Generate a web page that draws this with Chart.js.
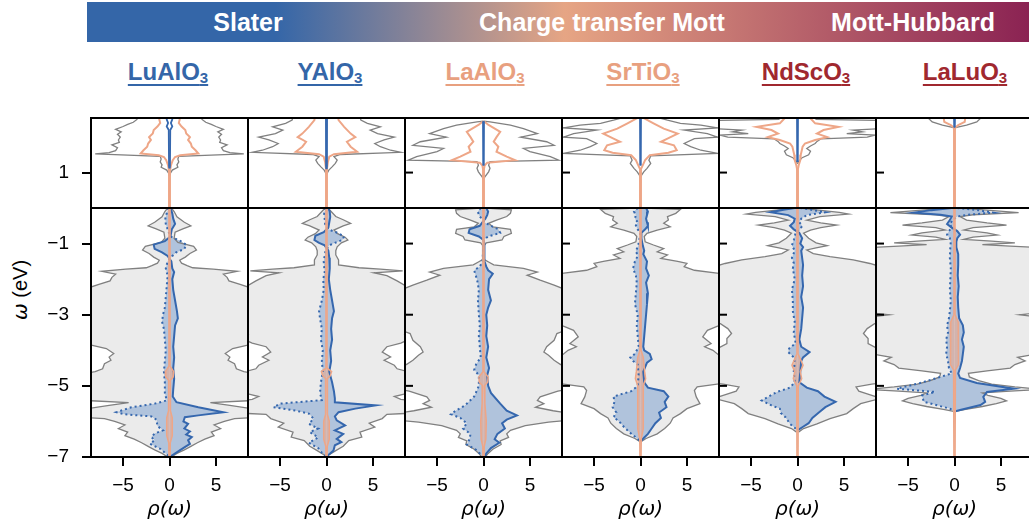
<!DOCTYPE html>
<html>
<head>
<meta charset="utf-8">
<title>Spectral functions</title>
<script src="https://cdn.jsdelivr.net/npm/chart.js@4.4.0/dist/chart.umd.min.js"></script>
<style>
    html, body { margin: 0; padding: 0; background: #fff; }
    body { width: 1029px; height: 527px; position: relative; overflow: hidden; font-family: "Liberation Sans", Arial, sans-serif; }
    .banner { position: absolute; left: 87px; top: 2px; width: 950px; height: 40px;
        background: linear-gradient(to right, #3466a8 0%, #3466a8 19.8%, #e6a584 50.3%, #8b2353 99%); }
    .banner span { position: absolute; top: 0; line-height: 40px; color: #fff; font-weight: bold; font-size: 25px;
        transform: translateX(-50%); white-space: nowrap; }
    .name { position: absolute; top: 58px; line-height: 28px; font-weight: bold; font-size: 24px; white-space: nowrap;
        transform: translateX(-50%); text-decoration: underline; text-decoration-thickness: 2px; text-underline-offset: 4px; }
    .name sub { font-size: 15px; vertical-align: -3px; line-height: 0; }
    .ytitle { position: absolute; left: 20px; top: 290px; font-size: 20px; white-space: nowrap;
        transform: translate(-50%, -50%) rotate(-90deg); }
    .ytitle i { font-family: "DejaVu Sans", sans-serif; }
    canvas { position: absolute; }
</style>
</head>
<body>
<div class="banner">
    <span style="left:161px">Slater</span>
    <span style="left:515px">Charge transfer Mott</span>
    <span style="left:826px">Mott-Hubbard</span>
</div>
<div class="ytitle"><i>ω</i> (eV)</div>

<script>
(function () {
    "use strict";

    var names = ["LuAlO", "YAlO", "LaAlO", "SrTiO", "NdScO", "LaLuO"];
    var nameColors = ["#3466a8", "#3466a8", "#e8a07f", "#e8a07f", "#a0282f", "#a0282f"];
    var nameCenters = [168, 330, 485, 643, 806, 965];

    var rhoTicks = [-5, 0, 5];
    var lowTicks = [-7, -5, -3, -1];
    var highTicks = [1];

    // [omega, rho] pairs. tot/or/bl are half widths (mirrored), up/dn are signed.
    var luTotLow = [[0,0.2],[-0.1,0.5],[-0.25,0.8],[-0.4,1.6],[-0.5,2.3],[-0.58,1.5],[-0.68,0.6],[-0.85,0.5],[-0.97,0.9],[-1.08,2.6],[-1.18,2.9],[-1.28,2.2],[-1.38,1.7],[-1.47,1.1],[-1.55,1.3],[-1.62,1.9],[-1.68,2.5],[-1.72,4.7],[-1.78,7.3],[-1.86,5.8],[-1.95,6.2],[-2.05,6.4],[-2.15,7.6],[-2.25,8.8],[-2.32,10],[-3.8,10],[-3.86,8.3],[-3.95,6.8],[-4.09,6.0],[-4.19,6.5],[-4.28,6.3],[-4.38,7.0],[-4.52,7.2],[-4.6,8.0],[-4.66,9.2],[-4.72,10],[-5.4,10],[-5.47,4.4],[-5.55,6.5],[-5.63,8.5],[-5.68,10],[-5.88,10],[-5.92,7.0],[-6.0,5.9],[-6.1,4.8],[-6.2,5.5],[-6.3,4.5],[-6.4,4.8],[-6.5,3.8],[-6.6,3.0],[-6.7,2.3],[-6.8,1.6],[-6.9,0.8],[-7,0.2]];
    var luUpLow = [[0,0.1],[-0.15,0.3],[-0.3,0.4],[-0.45,0.6],[-0.6,0.25],[-0.8,0.1],[-0.93,-0.5],[-1.03,-1.7],[-1.15,-1.6],[-1.25,-0.8],[-1.35,-0.2],[-1.5,0.2],[-1.7,0.3],[-1.8,0.5],[-2.0,0.3],[-2.3,0.4],[-2.6,0.6],[-2.9,0.8],[-3.1,0.9],[-3.3,0.6],[-3.6,0.5],[-3.9,0.4],[-4.2,0.5],[-4.5,0.4],[-4.8,0.5],[-5.1,0.4],[-5.3,0.35],[-5.46,0.75],[-5.6,3.1],[-5.74,5.8],[-5.83,3.1],[-5.88,1.65],[-6.0,1.5],[-6.07,2.0],[-6.2,1.6],[-6.28,2.2],[-6.37,1.8],[-6.44,2.4],[-6.53,2.0],[-6.63,2.2],[-6.73,1.6],[-6.85,0.9],[-6.95,0.3],[-7,0]];
    var luDnLow = [[0,-0.1],[-0.15,-0.3],[-0.3,-0.45],[-0.45,-0.4],[-0.6,-0.2],[-0.8,0.1],[-0.93,1.2],[-1.03,1.8],[-1.15,1.6],[-1.25,0.7],[-1.35,0.3],[-1.5,-0.2],[-1.7,-0.4],[-1.9,-0.2],[-2.2,-0.3],[-2.5,-0.4],[-2.8,-0.5],[-3.0,-0.7],[-3.2,-0.8],[-3.4,-0.6],[-3.7,-0.5],[-4.0,-0.4],[-4.3,-0.5],[-4.6,-0.6],[-4.9,-0.5],[-5.2,-0.5],[-5.41,-0.3],[-5.5,-1.6],[-5.6,-4.1],[-5.74,-5.7],[-5.8,-4.8],[-5.86,-1.95],[-5.95,-1.4],[-6.13,-1.3],[-6.25,-0.7],[-6.34,-1.6],[-6.44,-1.95],[-6.53,-1.6],[-6.63,-2.1],[-6.77,-1.0],[-6.9,-0.4],[-7,0]];
    var luOrLow = [[0,0.06],[-4.45,0.06],[-4.6,0.45],[-4.75,0.4],[-4.85,0.08],[-5.7,0.1],[-5.9,0.3],[-6.4,0.3],[-6.6,0.08],[-7,0.06]];
    var luTotHigh = [[2.7,3.3],[2.5,3.5],[2.42,3.9],[2.36,4.5],[2.3,5.0],[2.22,5.8],[2.15,5.2],[2.08,5.6],[2.0,5.3],[1.92,5.5],[1.85,5.4],[1.78,6.2],[1.7,5.6],[1.62,5.8],[1.56,6.5],[1.53,8.0],[1.46,1.0],[1.38,0.9],[1.3,1.0],[1.22,0.8],[1.15,0.9],[1.07,0.3],[0.98,0.1],[0.9,0]];
    var luOrHigh = [[2.7,0.9],[2.5,1.1],[2.4,1.0],[2.3,1.3],[2.2,1.7],[2.1,1.8],[2.0,2.2],[1.92,2.0],[1.82,2.3],[1.73,2.4],[1.63,2.8],[1.54,3.1],[1.49,1.15],[1.44,0.6],[1.35,0.35],[1.2,0.15],[1.05,0.05],[0,0.05]];
    var luBlHigh = [[2.7,0.1],[2.5,0.3],[2.4,0.15],[2.3,0.3],[2.2,0.08],[1.2,0.05],[1.12,0]];

    var yTotLow = [[0,0.15],[-0.1,0.5],[-0.24,1.0],[-0.33,1.8],[-0.43,2.6],[-0.5,1.8],[-0.62,0.8],[-0.72,1.2],[-0.82,2.0],[-0.9,2.3],[-0.98,1.6],[-1.09,1.15],[-1.2,1.0],[-1.32,1.0],[-1.46,1.3],[-1.6,1.3],[-1.68,3.5],[-1.72,5.8],[-1.77,8.2],[-1.82,5.1],[-1.9,6.5],[-2.05,7.6],[-2.2,8.6],[-2.28,10],[-3.5,10],[-3.55,8.5],[-3.65,9.2],[-3.8,8.0],[-3.9,6.5],[-4.05,6.0],[-4.19,6.9],[-4.28,6.2],[-4.42,7.3],[-4.52,7.6],[-4.62,9.0],[-4.68,10],[-5.15,10],[-5.2,8.8],[-5.3,7.3],[-5.38,8.0],[-5.45,10],[-5.76,10],[-5.8,6.5],[-5.92,6.0],[-6.05,4.6],[-6.16,5.2],[-6.3,3.6],[-6.44,3.8],[-6.54,2.4],[-6.7,1.8],[-6.82,1.0],[-6.95,0.2],[-7,0.1]];
    var yUpLow = [[0,0.2],[-0.1,0.35],[-0.25,0.4],[-0.4,0.3],[-0.55,0.2],[-0.68,-0.3],[-0.78,-1.2],[-0.9,-1.3],[-0.98,-0.8],[-1.05,-0.2],[-1.2,0.2],[-1.4,0.3],[-1.7,0.35],[-2.0,0.25],[-2.3,0.4],[-2.6,0.6],[-2.9,0.8],[-3.1,0.6],[-3.4,0.5],[-3.7,0.6],[-4.0,0.4],[-4.3,0.5],[-4.6,0.3],[-4.9,0.6],[-5.15,0.8],[-5.35,0.9],[-5.46,0.9],[-5.55,5.3],[-5.64,3.1],[-5.74,1.3],[-5.86,0.9],[-5.97,1.1],[-6.11,2.0],[-6.25,0.9],[-6.35,1.8],[-6.49,1.1],[-6.58,1.6],[-6.67,0.9],[-6.82,0.75],[-6.92,0.3],[-7,0]];
    var yDnLow = [[0,-0.1],[-0.15,-0.25],[-0.3,-0.2],[-0.45,-0.15],[-0.6,0.2],[-0.7,1.2],[-0.8,1.9],[-0.9,1.7],[-0.98,0.9],[-1.05,0.3],[-1.2,-0.1],[-1.5,-0.3],[-1.8,-0.2],[-2.0,-0.35],[-2.3,-0.3],[-2.6,-0.5],[-2.9,-0.8],[-3.1,-0.7],[-3.4,-0.5],[-3.7,-0.6],[-4.0,-0.4],[-4.3,-0.5],[-4.6,-0.4],[-4.9,-0.6],[-5.2,-0.7],[-5.4,-0.5],[-5.5,-5.0],[-5.6,-5.7],[-5.69,-3.4],[-5.78,-1.9],[-5.92,-1.4],[-6.07,-1.9],[-6.2,-0.9],[-6.3,-1.8],[-6.45,-0.9],[-6.6,-1.9],[-6.75,-0.9],[-6.88,-0.5],[-7,0]];
    var yOrLow = [[0,0.06],[-4.5,0.06],[-4.6,0.55],[-4.72,0.4],[-4.8,0.08],[-5.8,0.1],[-6.0,0.3],[-6.5,0.3],[-6.7,0.08],[-7,0.06]];
    var yTotHigh = [[2.7,3.5],[2.48,3.7],[2.39,4.4],[2.29,5.8],[2.2,4.7],[2.1,5.5],[2.0,7.3],[1.92,6.2],[1.82,5.2],[1.73,5.8],[1.63,6.9],[1.57,8.0],[1.51,1.5],[1.45,0.8],[1.35,1.15],[1.26,0.95],[1.16,0.6],[1.07,0.25],[0.95,0]];
    var yOrHigh = [[2.7,1.2],[2.48,1.3],[2.29,1.9],[2.1,2.6],[2.0,3.1],[1.87,2.2],[1.73,2.6],[1.59,3.3],[1.52,0.8],[1.45,0.3],[1.3,0.15],[1.1,0.05],[0,0.05]];
    var yBlHigh = [[2.7,0.06],[1.2,0.05],[1.1,0]];

    var laTotLow = [[0,0.3],[-0.05,3.0],[-0.15,2.9],[-0.24,2.5],[-0.34,1.4],[-0.43,0.55],[-0.53,1.0],[-0.6,2.9],[-0.71,3.0],[-0.8,2.2],[-0.9,2.0],[-0.98,0.3],[-1.05,0.1],[-1.45,0.1],[-1.51,0.5],[-1.6,1.1],[-1.7,4.3],[-1.8,5.8],[-1.89,4.7],[-2.03,6.1],[-2.17,7.6],[-2.26,8.5],[-2.32,10],[-3.4,10],[-3.47,8.5],[-3.53,7.9],[-3.72,7.6],[-3.9,6.8],[-4.05,6.5],[-4.14,7.0],[-4.28,7.6],[-4.4,8.3],[-4.47,10],[-5.05,10],[-5.15,8.0],[-5.31,6.1],[-5.41,5.8],[-5.5,6.5],[-5.6,5.6],[-5.7,7.5],[-5.8,10],[-5.95,10],[-6.02,7.0],[-6.12,4.5],[-6.25,2.9],[-6.35,2.5],[-6.45,2.7],[-6.55,1.8],[-6.65,1.9],[-6.78,1.0],[-6.9,0.5],[-7,0.2]];
    var laUpLow = [[0,0.3],[-0.1,0.5],[-0.2,0.4],[-0.3,0.2],[-0.4,-0.1],[-0.5,-0.4],[-0.6,-1.5],[-0.7,-1.6],[-0.8,-0.5],[-0.9,0],[-1.0,0.1],[-1.5,0.1],[-1.65,0.3],[-1.75,0.5],[-1.85,1.0],[-2.0,0.6],[-2.3,0.5],[-2.6,0.8],[-2.8,0.5],[-3.0,0.3],[-3.3,0.4],[-3.6,0.3],[-3.9,0.5],[-4.2,0.3],[-4.5,0.6],[-4.7,0.4],[-5.0,0.5],[-5.2,0.8],[-5.5,1.8],[-5.7,2.5],[-5.83,3.6],[-5.95,2.5],[-6.05,2.0],[-6.2,2.3],[-6.35,1.5],[-6.5,1.2],[-6.6,1.7],[-6.75,0.8],[-6.9,0.3],[-7,0.1]];
    var laDnLow = [[0,-0.3],[-0.1,-0.6],[-0.2,-0.5],[-0.3,-0.2],[-0.4,0.1],[-0.5,0.8],[-0.6,1.6],[-0.7,1.8],[-0.8,0.5],[-0.9,0],[-1.5,-0.1],[-1.65,-0.4],[-1.75,-1.0],[-1.85,-0.9],[-2.0,-0.7],[-2.3,-0.5],[-2.6,-0.6],[-3.0,-0.5],[-3.3,-0.4],[-3.6,-0.5],[-3.9,-0.4],[-4.2,-0.3],[-4.4,-0.8],[-4.55,-1.0],[-4.7,-0.5],[-5.0,-0.5],[-5.3,-1.0],[-5.55,-2.0],[-5.7,-3.0],[-5.8,-3.5],[-5.9,-2.5],[-6.05,-1.8],[-6.2,-2.2],[-6.35,-1.4],[-6.5,-1.5],[-6.65,-1.8],[-6.8,-0.8],[-6.9,-0.4],[-7,-0.1]];
    var laOrLow = [[0,0.06],[-4.6,0.06],[-4.75,0.5],[-4.9,0.45],[-5.0,0.1],[-5.5,0.15],[-6.0,0.3],[-6.5,0.25],[-6.7,0.08],[-7,0.06]];
    var laTotHigh = [[2.45,0],[2.43,0.7],[2.34,2.9],[2.24,4.3],[2.1,5.8],[2.0,4.0],[1.87,6.8],[1.77,7.6],[1.68,4.3],[1.59,5.0],[1.45,7.2],[1.35,8.1],[1.31,0.7],[1.21,0.55],[1.12,0.7],[1.02,0.55],[0.88,0.15],[0.8,0]];
    var laOrHigh = [[2.45,0.05],[2.35,0.5],[2.29,0.9],[2.15,1.8],[2.0,1.4],[1.87,1.1],[1.73,1.6],[1.59,1.4],[1.45,2.5],[1.35,3.4],[1.28,0.4],[1.2,0.12],[1.1,0.05],[0,0.05]];
    var laBlHigh = [[2.45,0.05],[1.25,0.05],[1.2,0]];

    var srTotLow = [[0,0.3],[-0.04,4.3],[-0.15,3.8],[-0.24,2.9],[-0.34,3.0],[-0.43,2.5],[-0.53,3.2],[-0.62,1.8],[-0.71,0.7],[-0.8,0.4],[-0.95,0.5],[-1.04,1.4],[-1.14,2.5],[-1.23,1.8],[-1.32,2.9],[-1.42,2.2],[-1.5,4.0],[-1.56,5.0],[-1.65,4.7],[-1.75,5.8],[-1.84,8.5],[-1.9,10],[-3.28,10],[-3.32,8.3],[-3.44,7.2],[-3.62,6.7],[-3.81,7.6],[-3.9,6.9],[-4.0,7.8],[-4.15,8.5],[-4.2,10],[-4.9,10],[-4.94,8.5],[-5.03,6.1],[-5.13,5.8],[-5.31,6.0],[-5.5,6.4],[-5.64,5.0],[-5.78,4.3],[-5.9,3.5],[-6.05,3.2],[-6.2,2.6],[-6.35,1.8],[-6.48,0.6],[-6.56,0.1]];
    var srUpLow = [[0,0.6],[-0.1,0.8],[-0.2,0.7],[-0.3,0.6],[-0.4,0.7],[-0.5,0.8],[-0.6,0.5],[-0.7,0.1],[-0.85,0.1],[-1.0,0.2],[-1.1,0.3],[-1.2,0.4],[-1.3,0.3],[-1.5,0.7],[-1.7,0.6],[-1.9,0.9],[-2.1,0.6],[-2.4,0.8],[-2.7,0.7],[-3.0,0.6],[-3.3,0.5],[-3.6,0.4],[-3.9,0.3],[-4.0,0.4],[-4.1,1.0],[-4.25,1.2],[-4.35,0.7],[-4.6,0.3],[-4.9,0.4],[-5.05,0.8],[-5.15,2.5],[-5.3,3.0],[-5.45,2.6],[-5.6,2.8],[-5.75,2.0],[-5.9,2.2],[-6.05,1.6],[-6.2,1.2],[-6.35,0.8],[-6.48,0.3],[-6.56,0]];
    var srDnLow = [[0,-0.3],[-0.1,-0.7],[-0.2,-0.5],[-0.3,-0.6],[-0.4,-0.3],[-0.5,-0.5],[-0.6,-0.3],[-0.7,0],[-1.0,-0.2],[-1.1,-0.3],[-1.2,-0.5],[-1.35,-0.3],[-1.5,-0.6],[-1.7,-0.8],[-1.9,-0.5],[-2.1,-0.4],[-2.4,-0.5],[-2.7,-0.6],[-3.0,-0.3],[-3.3,-0.4],[-3.6,-0.3],[-3.9,-0.2],[-4.1,-0.6],[-4.2,-1.1],[-4.3,-0.8],[-4.4,-0.3],[-4.7,-0.2],[-5.0,-0.3],[-5.15,-1.0],[-5.3,-2.9],[-5.45,-2.8],[-5.6,-3.0],[-5.75,-2.6],[-5.88,-2.9],[-6.0,-2.3],[-6.15,-1.8],[-6.3,-1.2],[-6.45,-0.5],[-6.56,0]];
    var srOrLow = [[0,0.06],[-4.0,0.06],[-4.2,0.3],[-4.6,0.45],[-4.8,0.55],[-5.0,0.3],[-5.5,0.3],[-6.2,0.3],[-6.5,0.08],[-7,0.06]];
    var srTotHigh = [[2.6,1.8],[2.53,2.2],[2.48,2.9],[2.39,4.3],[2.34,6.5],[2.26,8.3],[2.2,4.7],[2.1,7.2],[2.0,8.3],[1.96,5.8],[1.82,4.7],[1.73,5.4],[1.63,6.5],[1.54,8.3],[1.47,1.1],[1.35,0.9],[1.26,1.1],[1.12,0.7],[1.02,0.35],[0.9,0.05],[0.85,0]];
    var srOrHigh = [[2.6,0.3],[2.53,0.4],[2.39,1.4],[2.24,2.5],[2.1,4.0],[1.96,2.9],[1.87,2.2],[1.77,3.6],[1.63,3.9],[1.56,3.0],[1.49,1.0],[1.35,0.5],[1.21,0.25],[1.1,0.05],[0,0.05]];
    var srBlHigh = [[2.6,0.05],[1.25,0.05],[1.2,0]];

    var ndTotLow = [[0,0.3],[-0.05,2.0],[-0.12,4.5],[-0.17,5.5],[-0.24,2.4],[-0.34,1.0],[-0.42,2.5],[-0.48,4.2],[-0.55,2.5],[-0.62,1.4],[-0.71,0.65],[-0.85,1.2],[-0.98,2.0],[-1.06,3.2],[-1.12,2.0],[-1.18,1.0],[-1.28,1.7],[-1.37,3.5],[-1.46,6.0],[-1.56,7.8],[-1.65,9.0],[-1.7,10],[-3.2,10],[-3.25,8.3],[-3.39,7.5],[-3.53,7.1],[-3.67,7.6],[-3.81,7.6],[-3.95,8.6],[-4.0,10],[-4.9,10],[-4.95,8.0],[-5.03,6.3],[-5.15,6.6],[-5.27,8.0],[-5.35,9.0],[-5.5,6.8],[-5.64,6.0],[-5.78,5.3],[-5.92,3.5],[-6.07,2.1],[-6.2,0.65],[-6.3,0.1]];
    var ndUpLow = [[0,-0.3],[-0.05,-1.5],[-0.12,-2.9],[-0.2,-1.0],[-0.3,-0.3],[-0.4,-0.4],[-0.5,-0.8],[-0.6,-0.4],[-0.7,0.2],[-0.85,0.5],[-1.0,0.3],[-1.1,0.6],[-1.2,0.4],[-1.4,0.5],[-1.6,0.6],[-1.9,0.5],[-2.2,0.6],[-2.5,0.4],[-2.8,0.6],[-3.1,0.5],[-3.4,0.4],[-3.7,0.2],[-3.9,0.4],[-4.05,1.3],[-4.2,0.6],[-4.3,0.4],[-4.6,0.3],[-4.9,0.2],[-5.05,1.0],[-5.15,2.2],[-5.3,2.9],[-5.45,4.1],[-5.6,3.0],[-5.75,2.3],[-5.9,1.6],[-6.05,1.2],[-6.15,0.6],[-6.25,0]];
    var ndDnLow = [[0,0.3],[-0.05,1.5],[-0.12,3.0],[-0.2,1.0],[-0.3,0.4],[-0.4,0.2],[-0.5,0.5],[-0.6,0.3],[-0.7,-0.2],[-0.9,-0.4],[-1.05,-0.6],[-1.2,-0.3],[-1.4,-0.6],[-1.55,-0.4],[-1.7,-0.5],[-2.0,-0.3],[-2.3,-0.6],[-2.6,-0.5],[-2.9,-0.5],[-3.2,-0.3],[-3.5,-0.4],[-3.8,-0.2],[-3.95,-0.9],[-4.05,-1.0],[-4.2,-0.4],[-4.35,-0.3],[-4.6,-0.4],[-4.9,-0.3],[-5.05,-0.8],[-5.17,-2.2],[-5.41,-3.85],[-5.55,-2.8],[-5.64,-1.9],[-5.76,-1.8],[-5.88,-1.3],[-6.07,-0.8],[-6.18,-0.3],[-6.25,0]];
    var ndOrLow = [[0,0.06],[-4.1,0.06],[-4.3,0.4],[-4.42,0.6],[-4.6,0.3],[-4.8,0.45],[-5.0,0.08],[-7,0.06]];
    var ndTotHigh = [[2.6,1.8],[2.5,2.0],[2.47,9.0],[2.4,10],[2.25,10],[2.2,6.0],[2.15,7.0],[2.1,5.3],[2.06,8.4],[2.0,7.5],[1.95,2.5],[1.88,2.1],[1.82,1.9],[1.75,1.4],[1.68,1.0],[1.6,1.4],[1.5,1.2],[1.42,0.5],[1.32,0.15],[1.25,0]];
    var ndOrHigh = [[2.6,1.3],[2.53,1.4],[2.39,1.9],[2.29,4.4],[2.2,2.8],[2.1,2.1],[2.0,3.2],[1.92,1.9],[1.82,0.8],[1.73,0.55],[1.5,0.35],[1.35,0.3],[1.2,0.12],[1.1,0.05],[0,0.05]];
    var ndBlHigh = [[2.6,0.05],[1.35,0.05],[1.3,0]];

    var lluTotLow = [[0,0.5],[-0.06,3.5],[-0.13,6.9],[-0.19,2.0],[-0.24,0.6],[-0.34,1.3],[-0.42,3.5],[-0.48,5.6],[-0.55,2.0],[-0.62,1.0],[-0.7,3.5],[-0.76,4.6],[-0.82,2.0],[-0.88,1.0],[-0.93,4.0],[-0.98,6.5],[-1.03,3.0],[-1.07,6.0],[-1.1,8.2],[-1.15,10],[-2.92,10],[-3.0,7.0],[-3.1,10],[-4.05,10],[-4.12,8.5],[-4.2,6.8],[-4.3,7.6],[-4.4,6.5],[-4.5,6.0],[-4.58,3.5],[-4.65,1.5],[-4.75,1.6],[-4.85,2.6],[-4.95,4.0],[-5.03,6.5],[-5.1,9.5],[-5.15,6.0],[-5.2,3.0],[-5.27,3.6],[-5.35,5.0],[-5.42,5.6],[-5.5,4.5],[-5.58,3.0],[-5.66,1.2],[-5.72,0.1]];
    var lluUpLow = [[0,-0.3],[-0.06,-2.5],[-0.13,-4.4],[-0.19,-1.5],[-0.24,-0.3],[-0.34,-0.5],[-0.45,-0.8],[-0.55,-0.3],[-0.65,0.3],[-0.75,0.6],[-0.85,0.3],[-0.95,0.2],[-1.1,0.2],[-1.3,0.4],[-1.6,0.4],[-1.9,0.35],[-2.2,0.45],[-2.5,0.35],[-2.8,0.4],[-3.1,0.5],[-3.3,0.9],[-3.5,1.0],[-3.7,0.8],[-3.9,1.0],[-4.1,0.9],[-4.3,0.8],[-4.5,0.6],[-4.65,0.4],[-4.78,0.6],[-4.92,2.4],[-5.08,6.4],[-5.17,3.5],[-5.31,3.1],[-5.45,3.3],[-5.54,2.8],[-5.68,0.6],[-5.72,0]];
    var lluDnLow = [[0,0.3],[-0.06,2.5],[-0.13,4.2],[-0.19,1.5],[-0.24,0.3],[-0.34,-0.2],[-0.45,-0.5],[-0.55,-0.3],[-0.65,-0.6],[-0.75,-0.8],[-0.85,-0.5],[-0.95,-0.4],[-1.1,-0.45],[-1.4,-0.5],[-1.7,-0.4],[-2.0,-0.45],[-2.3,-0.5],[-2.6,-0.4],[-2.9,-0.5],[-3.1,-0.6],[-3.3,-0.8],[-3.5,-0.7],[-3.7,-0.9],[-3.9,-0.8],[-4.1,-0.9],[-4.3,-0.7],[-4.5,-0.6],[-4.65,-0.3],[-4.74,-1.4],[-4.92,-3.7],[-5.08,-6.2],[-5.17,-2.1],[-5.27,-3.5],[-5.45,-3.3],[-5.64,-0.5],[-5.72,0]];
    var lluOrLow = [[0,0.06],[-3.0,0.06],[-3.2,0.4],[-3.6,0.45],[-4.0,0.4],[-4.4,0.45],[-4.55,0.1],[-7,0.06]];
    var lluTotHigh = [[2.6,3.0],[2.53,2.8],[2.43,2.4],[2.34,1.3],[2.27,0.1],[2.25,0]];
    var lluOrHigh = [[2.6,1.2],[2.53,1.15],[2.43,1.1],[2.34,0.4],[2.27,0.08],[2.2,0.05],[0,0.05]];
    var lluBlHigh = [[2.6,0.05],[2.3,0.05],[2.27,0]];

    var panels = [
        {tot: luTotLow, up: luUpLow, dn: luDnLow, or: luOrLow, totH: luTotHigh, orH: luOrHigh, blH: luBlHigh},
        {tot: yTotLow, up: yUpLow, dn: yDnLow, or: yOrLow, totH: yTotHigh, orH: yOrHigh, blH: yBlHigh},
        {tot: laTotLow, up: laUpLow, dn: laDnLow, or: laOrLow, totH: laTotHigh, orH: laOrHigh, blH: laBlHigh},
        {tot: srTotLow, up: srUpLow, dn: srDnLow, or: srOrLow, totH: srTotHigh, orH: srOrHigh, blH: srBlHigh},
        {tot: ndTotLow, up: ndUpLow, dn: ndDnLow, or: ndOrLow, totH: ndTotHigh, orH: ndOrHigh, blH: ndBlHigh},
        {tot: lluTotLow, up: lluUpLow, dn: lluDnLow, or: lluOrLow, totH: lluTotHigh, orH: lluOrHigh, blH: lluBlHigh}
    ];

    var GRAY = "#808080", GRAY_FILL = "#ebebeb";
    var BLUE = "#3567ae", BLUE_FILL = "#b0c3dc";
    var ORANGE = "#eea687", ORANGE_FILL = "rgba(238, 166, 135, 0.55)";
    var TICK_FONT = "'Liberation Sans', Arial, sans-serif";

    var panelLeft = [91, 248, 405, 562, 719, 876];
    var PW = 157, AXW = 50, PAD = 6, XAXH = 69;

    function pts(pairs, sign) {
        return pairs.map(function (p) { return {x: sign * p[1], y: p[0]}; });
    }

    function line(data, color, width, extra) {
        var ds = {data: data, borderColor: color, borderWidth: width, pointRadius: 0,
            fill: false, tension: 0, clip: 0};
        for (var k in extra) ds[k] = extra[k];
        return ds;
    }

    function minus(v) {
        return v < 0 ? "\u2212" + Math.abs(v) : String(v);
    }

    function fixedTicks(list) {
        return function (s) { s.ticks = list.map(function (v) { return {value: v}; }); };
    }

    function frame(inner) {
        return {
            id: "frame",
            afterDraw: function (chart) {
                var a = chart.chartArea, ctx = chart.ctx;
                ctx.save();
                ctx.strokeStyle = "#000";
                ctx.lineWidth = 2;
                ctx.strokeRect(a.left, a.top, a.right - a.left, a.bottom - a.top);
                inner.forEach(function (v) {
                    var py = chart.scales.y.getPixelForValue(v);
                    ctx.beginPath();
                    ctx.moveTo(a.left, py);
                    ctx.lineTo(a.left + 8, py);
                    ctx.stroke();
                });
                ctx.restore();
            }
        };
    }

    function makeCanvas(left, top, w, h) {
        var c = document.createElement("canvas");
        c.width = w;
        c.height = h;
        c.style.left = left + "px";
        c.style.top = top + "px";
        c.style.width = w + "px";
        c.style.height = h + "px";
        document.body.appendChild(c);
        return c;
    }

    function yAxis(k, min, max, ticks) {
        return {
            type: "linear", min: min, max: max,
            afterBuildTicks: fixedTicks(ticks),
            afterFit: function (s) { s.width = AXW; s.paddingTop = 0; s.paddingBottom = 0; },
            grid: {drawOnChartArea: false, drawTicks: k === 0, tickLength: 9, color: "#000", lineWidth: 2},
            border: {display: false},
            ticks: {display: k === 0, font: {size: 19, family: TICK_FONT}, color: "#000", padding: 13, callback: minus}
        };
    }

    function createChart(canvas, datasets, scales, inner, bottomPad) {
        new Chart(canvas.getContext("2d"), {
            type: "line",
            data: {datasets: datasets},
            options: {
                indexAxis: "y",
                responsive: false,
                devicePixelRatio: 1,
                animation: false,
                events: [],
                layout: {padding: {left: 0, right: PAD, top: PAD, bottom: bottomPad}},
                plugins: {
                    legend: {display: false},
                    tooltip: {enabled: false},
                    filler: {drawTime: "beforeDatasetsDraw"}
                },
                scales: scales
            },
            plugins: [frame(inner)]
        });
    }

    panels.forEach(function (p, k) {
        var left = panelLeft[k] - AXW;
        var w = AXW + PW + PAD;

        var label = document.createElement("div");
        label.className = "name";
        label.style.left = nameCenters[k] + "px";
        label.style.color = nameColors[k];
        label.innerHTML = names[k] + "<sub>3</sub>";
        document.body.appendChild(label);

        // upper window (conduction side)
        createChart(makeCanvas(left, 118 - PAD, w, PAD + 90 + PAD), [
            line(pts(p.blH, 1), BLUE, 1.8, {order: 1}),
            line(pts(p.blH, -1), BLUE, 1.8, {order: 1}),
            line(pts(p.orH, 1), ORANGE, 2, {order: 2}),
            line(pts(p.orH, -1), ORANGE, 2, {order: 2}),
            line(pts(p.totH, 1), GRAY, 1.3, {order: 3}),
            line(pts(p.totH, -1), GRAY, 1.3, {order: 3})
        ], {
            x: {type: "linear", min: -8.45, max: 8.45, display: false},
            y: yAxis(k, 0, 2.54, highTicks)
        }, k >= 2 ? highTicks : [], PAD);

        // lower window (valence side)
        createChart(makeCanvas(left, 208 - PAD, w, PAD + 249 + XAXH), [
            line(pts(p.or, 1), ORANGE, 1.5, {order: 1, fill: "origin", backgroundColor: ORANGE_FILL}),
            line(pts(p.or, -1), ORANGE, 1.5, {order: 1, fill: "origin", backgroundColor: ORANGE_FILL}),
            line(pts(p.up, 1), BLUE, 2, {order: 2, fill: "origin", backgroundColor: BLUE_FILL}),
            line(pts(p.dn, 1), BLUE, 2, {order: 2, fill: "origin", backgroundColor: BLUE_FILL, borderDash: [2, 3]}),
            line(pts(p.tot, 1), GRAY, 1.3, {order: 3, fill: "origin", backgroundColor: GRAY_FILL}),
            line(pts(p.tot, -1), GRAY, 1.3, {order: 3, fill: "origin", backgroundColor: GRAY_FILL})
        ], {
            x: {
                type: "linear", min: -8.45, max: 8.45,
                afterBuildTicks: fixedTicks(rhoTicks),
                afterFit: function (s) { s.height = XAXH; s.paddingLeft = 0; s.paddingRight = 0; },
                grid: {drawOnChartArea: false, drawTicks: true, tickLength: 9, color: "#000", lineWidth: 2},
                border: {display: false},
                ticks: {font: {size: 19, family: TICK_FONT}, color: "#000", padding: 8, maxRotation: 0, callback: minus},
                title: {display: true, text: "ρ(ω)", color: "#000", padding: {top: 0, bottom: 4},
                    font: {size: 20, family: "'DejaVu Sans', sans-serif", style: "italic"}}
            },
            y: yAxis(k, -7, 0, lowTicks)
        }, k >= 2 ? lowTicks : [], 0);
    });
})();
</script>
</body>
</html>
